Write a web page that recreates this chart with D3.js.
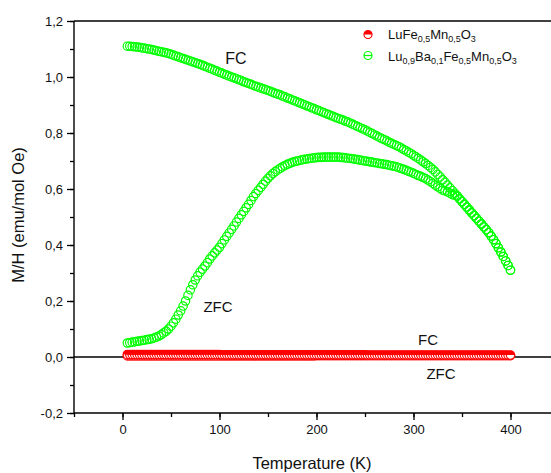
<!DOCTYPE html>
<html>
<head>
<meta charset="utf-8">
<script src="https://cdn.jsdelivr.net/npm/d3@7"></script>
<style>
  body { margin: 0; background: white; }
  text { font-family: "Liberation Sans", Arial, sans-serif; fill: #111; }
</style>
</head>
<body>
<div id="chart"></div>
<script>
// temperature grid (K) shared by all curves
const temps = [5,7.5,10,12.5,15,17.5,20,22.5,25,27.5,30,32.5,35,37.5,40,42.5,45,47.5,50,52.5,
  55,57.5,60,62.5,65,67.5,70,72.5,75,77.5,80,82.5,85,87.5,90,92.5,95,97.5,100,102.5,
  105,107.5,110,112.5,115,117.5,120,122.5,125,127.5,130,132.5,135,137.5,140,142.5,145,147.5,150,152.5,
  155,157.5,160,162.5,165,167.5,170,172.5,175,177.5,180,182.5,185,187.5,190,192.5,195,197.5,200,202.5,
  205,207.5,210,212.5,215,217.5,220,222.5,225,227.5,230,232.5,235,237.5,240,242.5,245,247.5,250,252.5,
  255,257.5,260,262.5,265,267.5,270,272.5,275,277.5,280,282.5,285,287.5,290,292.5,295,297.5,300,302.5,
  305,307.5,310,312.5,315,317.5,320,322.5,325,327.5,330,332.5,335,337.5,340,342.5,345,347.5,350,352.5,
  355,357.5,360,362.5,365,367.5,370,372.5,375,377.5,380,382.5,385,387.5,390,392.5,395,397.5,400];

// Lu0.9Ba0.1Fe0.5Mn0.5O3
const baFC = [1.110,1.110,1.109,1.108,1.107,1.106,1.104,1.103,1.101,1.100,
  1.098,1.096,1.094,1.092,1.090,1.088,1.086,1.084,1.081,1.078,
  1.075,1.072,1.069,1.066,1.063,1.060,1.057,1.054,1.051,1.048,
  1.045,1.042,1.038,1.035,1.031,1.028,1.024,1.021,1.017,1.014,
  1.010,1.007,1.003,1.000,0.997,0.994,0.990,0.987,0.983,0.980,
  0.977,0.974,0.970,0.967,0.964,0.961,0.958,0.955,0.952,0.949,
  0.945,0.942,0.939,0.936,0.932,0.929,0.925,0.922,0.918,0.915,
  0.911,0.908,0.904,0.901,0.897,0.894,0.890,0.887,0.883,0.880,
  0.876,0.873,0.869,0.866,0.862,0.859,0.855,0.852,0.849,0.846,
  0.842,0.839,0.835,0.831,0.827,0.823,0.819,0.815,0.811,0.807,
  0.802,0.798,0.793,0.789,0.784,0.780,0.776,0.772,0.767,0.763,
  0.759,0.755,0.751,0.746,0.741,0.736,0.731,0.726,0.720,0.715,
  0.709,0.703,0.697,0.691,0.684,0.677,0.670,0.661,0.652,0.643,
  0.633,0.624,0.614,0.604,0.594,0.585,0.575,0.565,0.555,0.545,
  0.535,0.525,0.515,0.505,0.495,0.485,0.475,0.465,0.455,0.444,
  0.432,0.419,0.405,0.390,0.375,0.359,0.343,0.327,0.310];
const baZFC = [0.050,0.051,0.053,0.054,0.056,0.057,0.059,0.060,0.062,0.063,
  0.065,0.068,0.071,0.075,0.080,0.086,0.092,0.100,0.110,0.122,
  0.135,0.150,0.165,0.182,0.200,0.220,0.240,0.258,0.275,0.290,
  0.303,0.314,0.325,0.337,0.350,0.361,0.372,0.382,0.392,0.405,
  0.418,0.431,0.443,0.456,0.468,0.482,0.495,0.508,0.520,0.533,
  0.545,0.559,0.573,0.584,0.595,0.606,0.617,0.628,0.638,0.647,
  0.655,0.662,0.668,0.674,0.679,0.684,0.688,0.692,0.695,0.698,
  0.700,0.702,0.704,0.706,0.707,0.709,0.710,0.711,0.712,0.713,
  0.713,0.714,0.714,0.714,0.714,0.714,0.714,0.714,0.713,0.712,
  0.711,0.710,0.709,0.708,0.706,0.705,0.703,0.702,0.700,0.699,
  0.697,0.696,0.694,0.693,0.691,0.690,0.688,0.687,0.685,0.683,
  0.681,0.679,0.676,0.673,0.670,0.667,0.663,0.660,0.656,0.652,
  0.648,0.645,0.641,0.637,0.632,0.626,0.620,0.614,0.608,0.602,
  0.596,0.593,0.590,0.585,0.580,0.578,0.575,0.565,0.555,0.545,
  0.535,0.525,0.515,0.505,0.495,0.485,0.475,0.465,0.455,0.444,
  0.432,0.419,0.405,0.390,0.375,0.359,0.343,0.327,0.310];

// LuFe0.5Mn0.5O3
const luFC = [0.009,0.009,0.009,0.009,0.009,0.009,0.009,0.009,0.009,0.009,
  0.009,0.009,0.009,0.009,0.009,0.009,0.009,0.009,0.009,0.009,
  0.009,0.009,0.009,0.009,0.009,0.009,0.009,0.009,0.009,0.009,
  0.009,0.009,0.009,0.009,0.009,0.009,0.009,0.009,0.009,0.008,
  0.008,0.008,0.008,0.008,0.008,0.008,0.008,0.008,0.008,0.008,
  0.008,0.008,0.008,0.008,0.008,0.008,0.008,0.008,0.008,0.008,
  0.008,0.008,0.008,0.008,0.008,0.008,0.008,0.008,0.008,0.008,
  0.008,0.008,0.008,0.008,0.008,0.008,0.008,0.008,0.008,0.008,
  0.008,0.008,0.008,0.008,0.008,0.008,0.008,0.008,0.008,0.008,
  0.008,0.008,0.008,0.008,0.008,0.008,0.008,0.008,0.008,0.007,
  0.007,0.007,0.007,0.007,0.007,0.007,0.007,0.007,0.007,0.007,
  0.007,0.007,0.007,0.007,0.007,0.007,0.007,0.007,0.007,0.007,
  0.007,0.007,0.007,0.007,0.007,0.007,0.007,0.007,0.007,0.007,
  0.007,0.007,0.007,0.007,0.007,0.007,0.007,0.007,0.007,0.007,
  0.007,0.007,0.007,0.007,0.007,0.007,0.007,0.007,0.007,0.007,
  0.007,0.007,0.007,0.007,0.007,0.007,0.007,0.007,0.007];
const luZFC = [0.004,0.004,0.004,0.004,0.004,0.004,0.004,0.004,0.004,0.004,
  0.004,0.004,0.004,0.004,0.004,0.004,0.004,0.004,0.004,0.004,
  0.004,0.004,0.004,0.004,0.004,0.004,0.004,0.004,0.004,0.004,
  0.004,0.004,0.004,0.004,0.004,0.004,0.004,0.004,0.004,0.004,
  0.004,0.004,0.004,0.004,0.004,0.004,0.004,0.004,0.004,0.004,
  0.004,0.004,0.004,0.004,0.004,0.004,0.004,0.004,0.004,0.004,
  0.004,0.004,0.004,0.004,0.004,0.004,0.004,0.004,0.004,0.004,
  0.004,0.004,0.004,0.004,0.004,0.004,0.004,0.004,0.005,0.005,
  0.005,0.005,0.005,0.005,0.005,0.005,0.005,0.005,0.005,0.005,
  0.005,0.005,0.005,0.005,0.005,0.005,0.005,0.005,0.005,0.005,
  0.005,0.005,0.005,0.005,0.005,0.005,0.005,0.005,0.005,0.005,
  0.005,0.005,0.005,0.005,0.005,0.005,0.005,0.005,0.005,0.005,
  0.005,0.005,0.005,0.005,0.005,0.005,0.005,0.005,0.005,0.005,
  0.005,0.005,0.005,0.005,0.005,0.005,0.005,0.005,0.005,0.005,
  0.005,0.005,0.005,0.005,0.005,0.005,0.005,0.005,0.005,0.005,
  0.005,0.005,0.005,0.005,0.005,0.005,0.005,0.005,0.005];

const xTicks = [0, 100, 200, 300, 400];
const yTicks = [-0.2, 0, 0.2, 0.4, 0.6, 0.8, 1.0, 1.2];

const width = 551, height = 473;
const margin = { top: 21, right: -8, bottom: 60, left: 74 };

const svg = d3.select("#chart").append("svg")
  .attr("width", width).attr("height", height);

const x = d3.scaleLinear().domain([-50, 450]).range([margin.left, width - margin.right]);
const y = d3.scaleLinear().domain([-0.2, 1.2]).range([height - margin.bottom, margin.top]);

const fmt = d3.formatLocale({ decimal: ",", thousands: ".", grouping: [3], currency: ["", ""], minus: "-" }).format(".1f");

const green = "#00ff00", red = "#ff0000";

// zero line
svg.append("line")
  .attr("x1", x(-50)).attr("x2", x(450))
  .attr("y1", y(0)).attr("y2", y(0))
  .attr("stroke", "#000").attr("stroke-width", 1.3);

// top frame
svg.append("line")
  .attr("x1", x(-50)).attr("x2", x(450))
  .attr("y1", y(1.2)).attr("y2", y(1.2))
  .attr("stroke", "#000").attr("stroke-width", 1.3);

// markers
function openCircles(vals, color) {
  svg.append("g").selectAll("circle")
    .data(temps.map((t, i) => [t, vals[i]]))
    .join("circle")
    .attr("cx", d => x(d[0])).attr("cy", d => y(d[1]))
    .attr("r", 4.2)
    .attr("fill", "none")
    .attr("stroke", color).attr("stroke-width", 1.2);
}

// half-filled (top half) circle path
function halfUp(r) {
  return `M${-r},0A${r},${r} 0 0 1 ${r},0Z`;
}
function halfCircles(vals) {
  const g = svg.append("g");
  const pts = temps.map((t, i) => [t, vals[i]]);
  g.selectAll("circle").data(pts).join("circle")
    .attr("cx", d => x(d[0])).attr("cy", d => y(d[1]))
    .attr("r", 4.2).attr("fill", "white")
    .attr("stroke", red).attr("stroke-width", 1.2);
  g.selectAll("path").data(pts).join("path")
    .attr("transform", d => `translate(${x(d[0])},${y(d[1])})`)
    .attr("d", halfUp(4.2)).attr("fill", red);
}

halfCircles(luZFC);
halfCircles(luFC);
openCircles(baZFC, green);
openCircles(baFC, green);

const axisFont = g => g.selectAll("text").attr("font-size", 13).attr("fill", "#111")
  .attr("font-family", "Liberation Sans, Arial, sans-serif");

// x axis
const xAxisMinor = d3.axisBottom(x).tickValues(d3.range(-50, 451, 50)).tickSize(4).tickFormat("");
svg.append("g").attr("transform", `translate(0,${y(-0.2)})`).call(xAxisMinor)
  .call(g => g.select(".domain").remove())
  .call(g => g.selectAll("text").remove())
  .selectAll("line").attr("stroke-width", 1.3);
const xAxis = d3.axisBottom(x).tickValues(xTicks).tickSize(7).tickPadding(5).tickFormat(d3.format("d"));
svg.append("g").attr("transform", `translate(0,${y(-0.2)})`).call(xAxis)
  .call(g => g.select(".domain").attr("d", `M${x(-50)},0H${x(450)}`).attr("stroke-width", 1.4))
  .call(g => g.selectAll("line").attr("stroke-width", 1.3))
  .call(axisFont);

// y axis
const yAxisMinor = d3.axisLeft(y).tickValues(d3.range(-0.2, 1.21, 0.1)).tickSize(4).tickFormat("");
svg.append("g").attr("transform", `translate(${x(-50)},0)`).call(yAxisMinor)
  .call(g => g.select(".domain").remove())
  .call(g => g.selectAll("text").remove())
  .selectAll("line").attr("stroke-width", 1.3);
const yAxis = d3.axisLeft(y).tickValues(yTicks).tickSize(7).tickPadding(4).tickFormat(fmt);
svg.append("g").attr("transform", `translate(${x(-50)},0)`).call(yAxis)
  .call(g => g.select(".domain").attr("d", `M0,${y(-0.2)}V${y(1.2)}`).attr("stroke-width", 1.4))
  .call(g => g.selectAll("line").attr("stroke-width", 1.3))
  .call(axisFont);

// axis titles
svg.append("text")
  .attr("x", 312).attr("y", 469)
  .attr("text-anchor", "middle").attr("font-size", 16.5)
  .text("Temperature (K)");
svg.append("text")
  .attr("transform", `translate(24,${215}) rotate(-90)`)
  .attr("text-anchor", "middle").attr("font-size", 16.5)
  .text("M/H (emu/mol Oe)");

// curve labels
const labels = [
  { t: "FC", x: 236, y: 64, s: 16 },
  { t: "ZFC", x: 218, y: 312, s: 15 },
  { t: "FC", x: 428, y: 345, s: 15 },
  { t: "ZFC", x: 441, y: 379, s: 15 }
];
svg.append("g").selectAll("text").data(labels).join("text")
  .attr("x", d => d.x).attr("y", d => d.y)
  .attr("text-anchor", "middle").attr("font-size", d => d.s)
  .text(d => d.t);

// legend
const leg = svg.append("g");
leg.append("circle").attr("cx", 368).attr("cy", 34.5).attr("r", 4)
  .attr("fill", "white").attr("stroke", red).attr("stroke-width", 1.2);
leg.append("path").attr("transform", "translate(368,34.5)").attr("d", halfUp(4)).attr("fill", red);
leg.append("circle").attr("cx", 368).attr("cy", 55.5).attr("r", 4)
  .attr("fill", "none").attr("stroke", green).attr("stroke-width", 1.2);
leg.append("line").attr("x1", 364).attr("x2", 372).attr("y1", 55.5).attr("y2", 55.5)
  .attr("stroke", green).attr("stroke-width", 1.2);

// chemical formula with subscripts; dy shifts back to the baseline on the next part
function formula(parts, yy) {
  const t = leg.append("text").attr("x", 388).attr("y", yy).attr("font-size", 13);
  let low = false;
  parts.forEach(p => {
    const sub = !!p.sub;
    const dy = sub === low ? 0 : (sub ? 3 : -3);
    t.append("tspan").attr("font-size", sub ? 9 : 13).attr("dy", dy).text(p.s);
    low = sub;
  });
}
formula([{ s: "LuFe" }, { s: "0,5", sub: 1 }, { s: "Mn" }, { s: "0,5", sub: 1 }, { s: "O" }, { s: "3", sub: 1 }], 39);
formula([{ s: "Lu" }, { s: "0,9", sub: 1 }, { s: "Ba" }, { s: "0,1", sub: 1 }, { s: "Fe" }, { s: "0,5", sub: 1 },
  { s: "Mn" }, { s: "0,5", sub: 1 }, { s: "O" }, { s: "3", sub: 1 }], 61);
</script>
</body>
</html>
